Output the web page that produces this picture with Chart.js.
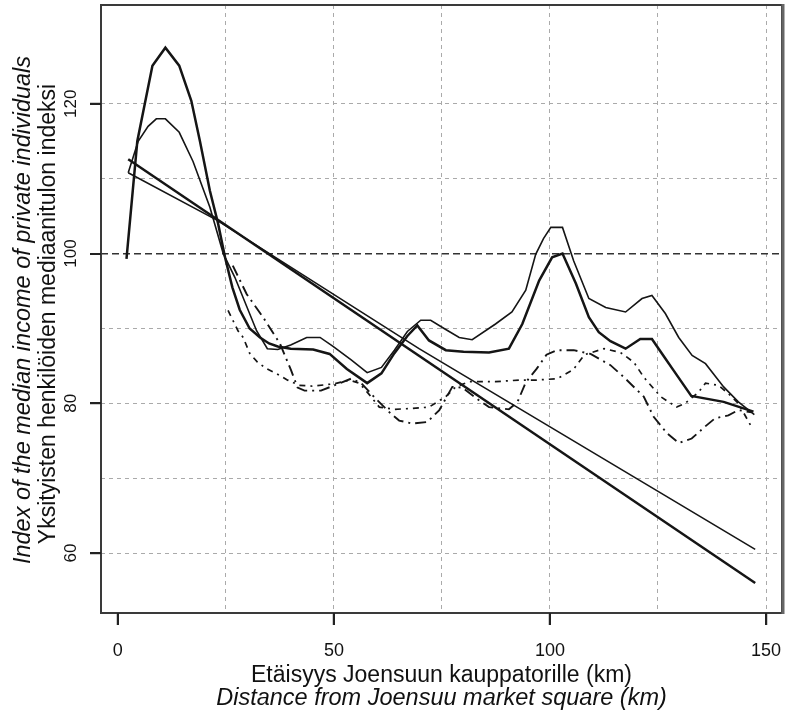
<!DOCTYPE html>
<html>
<head>
<meta charset="utf-8">
<script src="https://cdn.jsdelivr.net/npm/chart.js@4/dist/chart.umd.min.js"></script>
<style>
  html, body { margin: 0; padding: 0; background: #fff; }
  #wrap { width: 792px; height: 713px; }
</style>
</head>
<body>
<div id="wrap"><canvas id="incomeChart" width="792" height="713"></canvas></div>
<script>
// distance (km) / index values
const curveThickKm = [2.0, 4.5, 8.0, 11.0, 14.2, 17.0, 19.0, 21.3, 23.2, 24.8, 26.5, 28.2, 30.5, 32.9, 35, 37, 40, 45.2, 49, 53, 57.7, 61, 64, 67, 69.3, 72, 75.9, 80, 85.9, 90.5, 93.6, 97.5, 100.5, 102.9, 106, 109, 111.3, 114, 117.5, 120.9, 123.6, 126.7, 128.6, 132.7, 140.2, 147.1];
const curveThickIdx = [99.3, 115, 125.1, 127.5, 125.1, 120.4, 115, 108.4, 104, 99.5, 95.5, 92.5, 90, 88.8, 88, 87.6, 87.3, 87.2, 86.6, 84.6, 82.7, 84, 86.7, 89, 90.4, 88.4, 87.1, 86.9, 86.8, 87.3, 90.6, 96.4, 99.5, 100, 96, 91.5, 89.5, 88.3, 87.3, 88.6, 88.6, 86, 84.4, 81, 80.2, 78.9];

const curveThinKm = [2.4, 4.7, 7, 8.9, 11, 14.2, 17.4, 21.3, 24.4, 27.1, 32.1, 34.6, 37, 40, 43.7, 46.8, 49.8, 54, 57.7, 61, 64, 67, 70.1, 72.4, 75.5, 79, 82, 87.4, 91.2, 94.4, 96.7, 98.5, 100.2, 102.9, 105.5, 109, 112.9, 117.5, 121.3, 123.6, 126.7, 129.8, 132.9, 136, 140.2, 143.6, 147.3];
const curveThinIdx = [110.8, 115, 117, 118, 118, 116.2, 112.3, 106.2, 100, 96.8, 89.7, 87.3, 87.2, 87.8, 88.8, 88.8, 87.6, 85.8, 84.1, 84.8, 87.1, 89.6, 91.1, 91.1, 90, 88.8, 88.5, 90.6, 92.2, 95.1, 99.9, 102, 103.5, 103.5, 99, 94, 92.8, 92.2, 94, 94.4, 92, 88.8, 86.4, 85.3, 82.2, 80.2, 78.5];

const dashLongKm = [26.6, 29.8, 33.6, 37.5, 40.1, 41.6, 43.2, 47, 50.1, 54, 56.3, 59.4, 63.2, 65.1, 68.1, 71.6, 74.4, 77.4, 79.7, 83.6, 85.9, 90.5, 92.5, 94.4, 96.9, 99.2, 101.6, 105.5, 109.4, 114, 117.1, 121.7, 124, 127.1, 129.8, 132.8, 135.9, 138.2, 141.3, 143.6, 146.7];
const dashLongIdx = [98.4, 94.6, 91.5, 88, 84.4, 82.1, 81.7, 81.7, 82.4, 83.3, 82.7, 80.8, 78.6, 77.7, 77.3, 77.5, 79.1, 82.2, 82.1, 80.4, 79.5, 79.2, 80.2, 82.8, 84.6, 86.5, 87.1, 87.1, 86.6, 85.1, 83.5, 80.9, 78.2, 76, 74.7, 75.3, 76.9, 78, 78.4, 79.1, 78.8];

const dashShortKm = [25.5, 27.8, 29, 30.5, 32.3, 34.5, 36.3, 39.3, 42, 45, 50, 53.6, 55.9, 58, 60.5, 64, 67.4, 72, 75.9, 78.2, 81.3, 87.4, 92.8, 96.7, 101.7, 105.4, 108, 112.5, 116.3, 119.4, 121.7, 125.6, 129.3, 131.3, 134.4, 136, 139, 141.3, 143.6, 146.7];
const dashShortIdx = [92.4, 89.7, 88.8, 86.7, 85.5, 84.6, 84.1, 83.1, 82.4, 82.3, 82.6, 83.1, 82.7, 81.3, 79.5, 79.2, 79.3, 79.5, 80.9, 82.2, 82.9, 82.9, 83.1, 83.1, 83.3, 84.5, 86.5, 87.3, 86.8, 85.5, 83.5, 80.9, 79.5, 80, 81.5, 82.7, 82.4, 81.3, 80, 76.8];

const trendThickKm = [2.4, 147.5];
const trendThickIdx = [112.6, 56.0];
const trendThinKm = [2.4, 22.8, 69.7, 147.5];
const trendThinIdx = [110.8, 104.5, 87.3, 60.5];

const xGridKm = [0, 25, 50, 75, 100, 125, 150];
const xLabelKm = [0, 50, 100, 150];
const yGridIdx = [60, 70, 80, 90, 100, 110, 120];
const yLabelIdx = [60, 80, 100, 120];

const xTitleFi = 'Etäisyys Joensuun kauppatorille (km)';
const xTitleEn = 'Distance from Joensuu market square (km)';
const yTitleEn = 'Index of the median income of private individuals';
const yTitleFi = 'Yksityisten henkilöiden mediaanitulon indeksi';

function pts(km, idx) {
  return km.map((x, i) => ({ x: x, y: idx[i] }));
}

function line(data, width, dash) {
  return {
    data: data,
    borderColor: '#151515',
    borderWidth: width,
    borderDash: dash || [],
    pointRadius: 0,
    tension: 0,
    fill: false
  };
}

const FONT = '"Liberation Sans", Arial, sans-serif';

// box round the plot, tick marks, upright y labels and the two-language axis titles
const frameAndTitles = {
  id: 'frameAndTitles',
  afterDraw(chart) {
    const ctx = chart.ctx;
    const a = chart.chartArea;
    const xs = chart.scales.x;
    const ys = chart.scales.y;

    ctx.save();
    ctx.setLineDash([]);
    ctx.strokeStyle = '#3a3a3a';
    ctx.lineWidth = 2;
    ctx.strokeRect(a.left, a.top, a.right - a.left, a.bottom - a.top);
    ctx.strokeStyle = '#666';
    ctx.lineWidth = 3;
    ctx.beginPath();
    ctx.moveTo(a.right + 1, a.top - 1);
    ctx.lineTo(a.right + 1, a.bottom + 1);
    ctx.stroke();

    ctx.fillStyle = '#222';
    xLabelKm.forEach((v) => {
      ctx.fillRect(Math.round(xs.getPixelForValue(v)) - 1, a.bottom, 2, 12);
    });
    yLabelIdx.forEach((v) => {
      ctx.fillRect(a.left - 11, Math.round(ys.getPixelForValue(v)) - 1, 11, 2);
    });
    ctx.restore();

    ctx.save();
    ctx.fillStyle = '#111';
    ctx.textAlign = 'center';
    ctx.textBaseline = 'middle';
    ctx.font = '17px ' + FONT;
    yLabelIdx.forEach((v) => {
      ctx.save();
      ctx.translate(a.left - 30, ys.getPixelForValue(v));
      ctx.rotate(-Math.PI / 2);
      ctx.fillText(String(v), 0, 0);
      ctx.restore();
    });
    ctx.restore();

    ctx.save();
    ctx.fillStyle = '#111';
    ctx.textAlign = 'center';
    ctx.textBaseline = 'alphabetic';
    const cx = (a.left + a.right) / 2;
    ctx.font = '23px ' + FONT;
    ctx.fillText(xTitleFi, cx, 682);
    ctx.font = 'italic 23.5px ' + FONT;
    ctx.fillText(xTitleEn, cx, 705);

    const cy = (a.top + a.bottom) / 2;
    ctx.translate(30, cy + 1);
    ctx.rotate(-Math.PI / 2);
    ctx.font = 'italic 23.5px ' + FONT;
    ctx.fillText(yTitleEn, 0, 0);
    ctx.restore();

    ctx.save();
    ctx.fillStyle = '#111';
    ctx.textAlign = 'center';
    ctx.translate(55, cy + 5);
    ctx.rotate(-Math.PI / 2);
    ctx.font = '23px ' + FONT;
    ctx.fillText(yTitleFi, 0, 0);
    ctx.restore();
  }
};

new Chart(document.getElementById('incomeChart'), {
  type: 'line',
  data: {
    datasets: [
      line(pts(trendThinKm, trendThinIdx), 1.6),
      line(pts(trendThickKm, trendThickIdx), 2.5),
      line(pts(dashShortKm, dashShortIdx), 1.7, [6, 5, 2, 5]),
      line(pts(dashLongKm, dashLongIdx), 1.9, [11, 5, 2, 5]),
      line(pts(curveThinKm, curveThinIdx), 1.6),
      line(pts(curveThickKm, curveThickIdx), 2.5)
    ]
  },
  plugins: [frameAndTitles],
  options: {
    responsive: false,
    animation: false,
    layout: { padding: { top: 5, right: 10, left: 0, bottom: 0 } },
    plugins: { legend: { display: false }, tooltip: { enabled: false } },
    scales: {
      x: {
        type: 'linear',
        min: -3.9,
        max: 153.7,
        afterBuildTicks: (s) => { s.ticks = xGridKm.map(v => ({ value: v })); },
        afterFit: (s) => { s.height = 100; },
        border: { display: false, dash: [4, 4] },
        grid: {
          color: (c) => (c.tick && c.tick.value !== 0 ? '#aaa' : 'rgba(0,0,0,0)'),
          lineWidth: 1,
          tickLength: 12,
          tickWidth: 1.5,
          tickColor: (c) => (c.tick && xLabelKm.includes(c.tick.value) ? '#333' : 'rgba(0,0,0,0)')
        },
        ticks: {
          autoSkip: false,
          maxRotation: 0,
          padding: 5,
          color: '#111',
          font: { family: FONT, size: 18, lineHeight: 2.333 },
          callback: (v) => (xLabelKm.includes(v) ? String(v) : '')
        }
      },
      y: {
        type: 'linear',
        min: 52,
        max: 133.2,
        afterBuildTicks: (s) => { s.ticks = yGridIdx.map(v => ({ value: v })); },
        afterFit: (s) => { s.width = 101; },
        border: {
          display: false,
          dash: (c) => (c.tick && c.tick.value === 100 ? [7, 4] : [4, 4])
        },
        grid: {
          color: (c) => (c.tick && c.tick.value === 100 ? '#333' : '#aaa'),
          lineWidth: (c) => (c.tick && c.tick.value === 100 ? 1.6 : 1),
          tickLength: 11,
          tickWidth: 1.5,
          tickColor: (c) => (c.tick && yLabelIdx.includes(c.tick.value) ? '#333' : 'rgba(0,0,0,0)')
        },
        ticks: { display: false }
      }
    }
  }
});
</script>
</body>
</html>
